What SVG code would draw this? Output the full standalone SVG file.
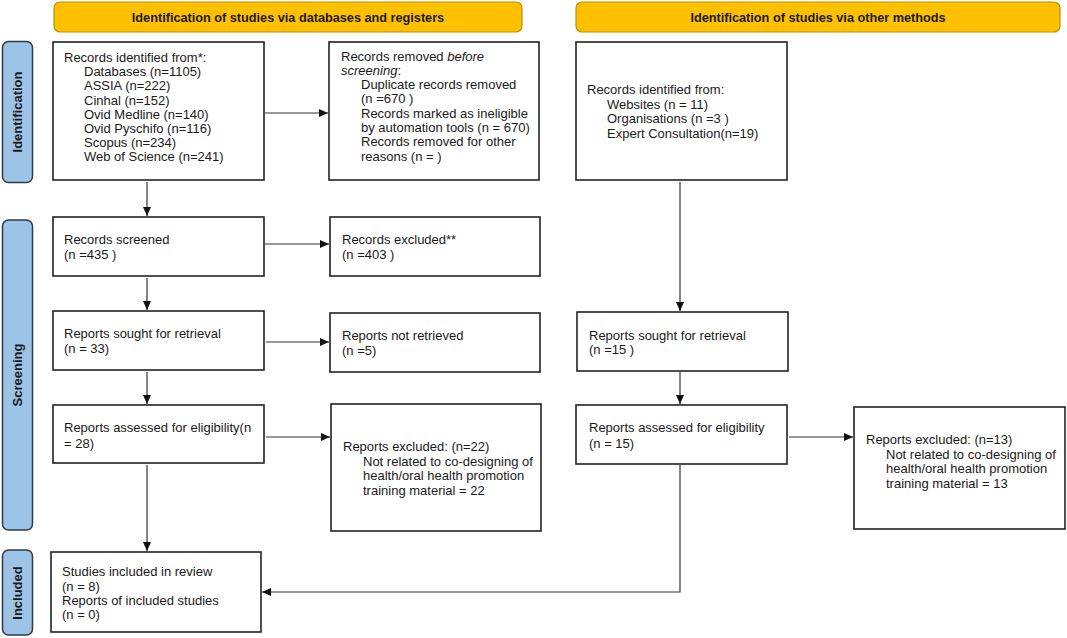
<svg xmlns="http://www.w3.org/2000/svg" width="1067" height="638" viewBox="0 0 1067 638">
<style>
.bg{fill:#ffffff}
.hdr{fill:#FFC000;stroke:#BF9000;stroke-width:1.2}
.side{fill:#9DC3E6;stroke:#2E3A48;stroke-width:1.5}
.box{fill:#ffffff;stroke:#222222;stroke-width:1.6}
.t{font-family:"Liberation Sans",Arial,sans-serif;font-size:13px;fill:#1a1a1a}
.hb{font-family:"Liberation Sans",Arial,sans-serif;font-size:12.7px;font-weight:bold;fill:#1a1a1a;text-anchor:middle}
.sb{font-family:"Liberation Sans",Arial,sans-serif;font-size:13px;font-weight:bold;fill:#1a1a1a;text-anchor:middle}
.c{fill:none;stroke:#333333;stroke-width:1.2}
</style>
<defs>
<marker id="ah" markerUnits="userSpaceOnUse" markerWidth="9" markerHeight="8" refX="9" refY="4" orient="auto">
<path d="M0,0 L9,4 L0,8 z" fill="#111111"/>
</marker>
</defs>
<rect class="bg" x="0" y="0" width="1067" height="638"/>

<g id="header-databases">
<rect class="hdr" x="54" y="2" width="468" height="30" rx="6"/>
<text class="hb" x="288" y="21.5">Identification of studies via databases and registers</text>
</g>
<g id="header-other">
<rect class="hdr" x="576" y="2" width="484" height="30" rx="6"/>
<text class="hb" x="818" y="21.5">Identification of studies via other methods</text>
</g>

<g id="side-identification">
<rect class="side" x="2.5" y="41.5" width="30" height="141" rx="6"/>
<text class="sb" transform="translate(22,112) rotate(-90)">Identification</text>
</g>
<g id="side-screening">
<rect class="side" x="2.5" y="220" width="30" height="310" rx="6"/>
<text class="sb" transform="translate(22,375) rotate(-90)">Screening</text>
</g>
<g id="side-included">
<rect class="side" x="2.5" y="550" width="30" height="85" rx="6"/>
<text class="sb" transform="translate(22,593) rotate(-90)">Included</text>
</g>

<g id="records-identified">
<rect class="box" x="53" y="42" width="211" height="138"/>
<text class="t" x="64" y="62">Records identified from*:</text>
<text class="t" x="84" y="76.2">Databases (n=1105)</text>
<text class="t" x="84" y="90.4">ASSIA (n=222)</text>
<text class="t" x="84" y="104.6">Cinhal (n=152)</text>
<text class="t" x="84" y="118.8">Ovid Medline (n=140)</text>
<text class="t" x="84" y="133">Ovid Pyschifo (n=116)</text>
<text class="t" x="84" y="147.2">Scopus (n=234)</text>
<text class="t" x="84" y="161.4">Web of Science (n=241)</text>
</g>

<g id="records-removed">
<rect class="box" x="329" y="42" width="210" height="138"/>
<text class="t" x="341" y="60.5">Records removed <tspan font-style="italic">before</tspan></text>
<text class="t" x="341" y="74.8"><tspan font-style="italic">screening</tspan>:</text>
<text class="t" x="361" y="89.1">Duplicate records removed</text>
<text class="t" x="361" y="103.4">(n =670 )</text>
<text class="t" x="361" y="117.7">Records marked as ineligible</text>
<text class="t" x="361" y="132">by automation tools (n = 670)</text>
<text class="t" x="361" y="146.3">Records removed for other</text>
<text class="t" x="361" y="160.6">reasons (n = )</text>
</g>

<g id="other-records-identified">
<rect class="box" x="576" y="42" width="211" height="138"/>
<text class="t" x="587" y="94">Records identified from:</text>
<text class="t" x="607" y="108.5">Websites (n = 11)</text>
<text class="t" x="607" y="123">Organisations (n =3 )</text>
<text class="t" x="607" y="137.5">Expert Consultation(n=19)</text>
</g>

<g id="records-screened">
<rect class="box" x="53" y="217" width="211" height="59"/>
<text class="t" x="64" y="243.5">Records screened</text>
<text class="t" x="64" y="258.5">(n =435 )</text>
</g>

<g id="records-excluded">
<rect class="box" x="330" y="217" width="210" height="59"/>
<text class="t" x="342" y="243.5">Records excluded**</text>
<text class="t" x="342" y="258.5">(n =403 )</text>
</g>

<g id="reports-sought">
<rect class="box" x="53" y="311" width="211" height="59"/>
<text class="t" x="64" y="338">Reports sought for retrieval</text>
<text class="t" x="64" y="353">(n = 33)</text>
</g>

<g id="reports-not-retrieved">
<rect class="box" x="330" y="313" width="210" height="59"/>
<text class="t" x="342" y="340">Reports not retrieved</text>
<text class="t" x="342" y="355">(n =5)</text>
</g>

<g id="reports-assessed">
<rect class="box" x="53" y="405" width="211" height="58"/>
<text class="t" x="64" y="432">Reports assessed for eligibility(n</text>
<text class="t" x="64" y="447.5">= 28)</text>
</g>

<g id="reports-excluded">
<rect class="box" x="331" y="404" width="210" height="127"/>
<text class="t" x="343" y="451">Reports excluded: (n=22)</text>
<text class="t" x="363" y="465.5">Not related to co-designing of</text>
<text class="t" x="363" y="480">health/oral health promotion</text>
<text class="t" x="363" y="494.5">training material = 22</text>
</g>

<g id="other-reports-sought">
<rect class="box" x="577" y="312" width="211" height="59"/>
<text class="t" x="589" y="339.5">Reports sought for retrieval</text>
<text class="t" x="589" y="354">(n =15 )</text>
</g>

<g id="other-reports-assessed">
<rect class="box" x="576" y="405" width="211" height="59"/>
<text class="t" x="589" y="432">Reports assessed for eligibility</text>
<text class="t" x="589" y="447.5">(n = 15)</text>
</g>

<g id="other-reports-excluded">
<rect class="box" x="854" y="407" width="211" height="122"/>
<text class="t" x="866" y="444">Reports excluded: (n=13)</text>
<text class="t" x="886" y="458.5">Not related to co-designing of</text>
<text class="t" x="886" y="473">health/oral health promotion</text>
<text class="t" x="886" y="487.5">training material = 13</text>
</g>

<g id="studies-included">
<rect class="box" x="51" y="552" width="210" height="80"/>
<text class="t" x="62" y="576">Studies included in review</text>
<text class="t" x="62" y="590.5">(n = 8)</text>
<text class="t" x="62" y="604.5">Reports of included studies</text>
<text class="t" x="62" y="619">(n = 0)</text>
</g>

<g id="connectors">
<line class="c" x1="265" y1="113" x2="328" y2="113" marker-end="url(#ah)"/>
<line class="c" x1="147" y1="182" x2="147" y2="216" marker-end="url(#ah)"/>
<line class="c" x1="265" y1="244" x2="329" y2="244" marker-end="url(#ah)"/>
<line class="c" x1="147" y1="278" x2="147" y2="310" marker-end="url(#ah)"/>
<line class="c" x1="266" y1="342" x2="329" y2="342" marker-end="url(#ah)"/>
<line class="c" x1="147" y1="372" x2="147" y2="404" marker-end="url(#ah)"/>
<line class="c" x1="266" y1="437" x2="330" y2="437" marker-end="url(#ah)"/>
<line class="c" x1="147" y1="465" x2="147" y2="551" marker-end="url(#ah)"/>
<line class="c" x1="680" y1="182" x2="680" y2="311" marker-end="url(#ah)"/>
<line class="c" x1="680" y1="372" x2="680" y2="404" marker-end="url(#ah)"/>
<line class="c" x1="789" y1="437" x2="853" y2="437" marker-end="url(#ah)"/>
<polyline class="c" points="680,465 680,592 262,592" marker-end="url(#ah)"/>
</g>
</svg>
